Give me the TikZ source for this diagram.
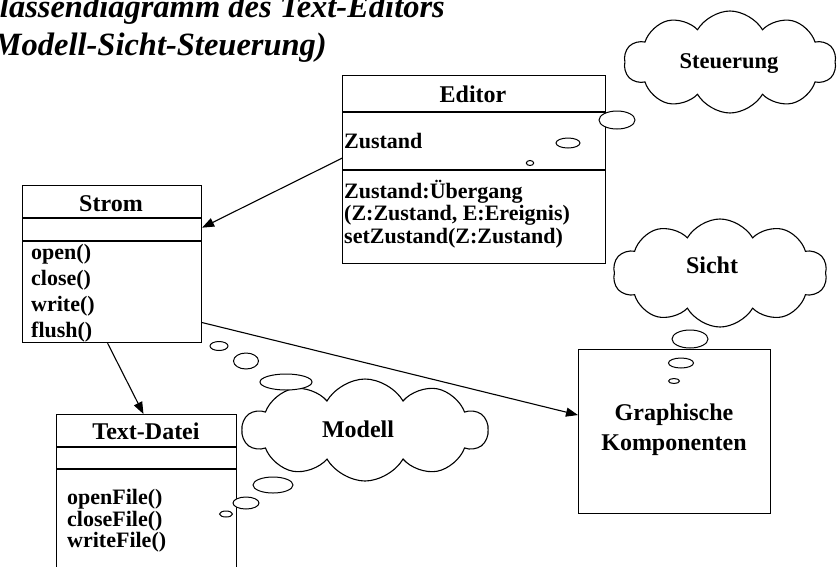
\documentclass[tikz,border=0pt]{standalone}
\usepackage{fontspec}
\setmainfont{Liberation Serif}
\usetikzlibrary{shapes.symbols,calc,arrows.meta}

\newcommand\ttlfont{\fontsize{32.5}{34}\selectfont\bfseries\itshape}
\newcommand\hdfont{\fontsize{24}{26}\selectfont\bfseries}
\newcommand\mbfont{\fontsize{22}{24}\selectfont\bfseries}
\newcommand\cldfont{\fontsize{24}{26}\selectfont\bfseries}

\begin{document}
\begin{tikzpicture}[x=1pt,y=-1pt,
  classbox/.style={draw, line width=1.1pt, rectangle, anchor=north west, inner sep=0pt},
  divider/.style={line width=1.1pt},
  hd/.style={anchor=base, inner sep=0pt, font=\hdfont},
  mb/.style={anchor=base west, inner sep=0pt, font=\mbfont},
  thought/.style={cloud, draw, line width=1.1pt, fill=white, cloud puffs=10,
    cloud puff arc=120, aspect=2, cloud ignores aspect, inner sep=0pt},
  cldtext/.style={anchor=base, inner sep=0pt, font=\cldfont},
  bubble/.style={draw, line width=1pt, fill=white},
  assoc/.style={line width=1.1pt, -{Triangle[length=12pt,width=9pt]}}]

\useasboundingbox (0,0) rectangle (837,566);

% title (runs off the left edge of the page)
\node[anchor=base east, inner sep=0pt, font=\ttlfont] (title1) at (445,17) {Klassendiagramm des Text-Editors};
\node[anchor=base east, inner sep=0pt, font=\ttlfont] (title2) at (327,55) {(Modell-Sicht-Steuerung)};

% class Editor
\node[classbox, minimum width=263pt, minimum height=188pt] (editor) at (342,75) {};
\draw[divider] ($(editor.north west)+(0,37)$) -- ($(editor.north east)+(0,37)$);
\draw[divider] ($(editor.north west)+(0,95)$) -- ($(editor.north east)+(0,95)$);
\node[hd] (editorname) at (473,102) {Editor};
\node[mb] (editorattr) at (344,148) {Zustand};
\node[mb] (editorop1) at (344,198) {Zustand:Übergang};
\node[mb] (editorop2) at (344,220) {(Z:Zustand, E:Ereignis)};
\node[mb] (editorop3) at (344,243) {setZustand(Z:Zustand)};

% class Strom
\node[classbox, minimum width=179pt, minimum height=157pt] (strom) at (22,185) {};
\draw[divider] ($(strom.north west)+(0,33)$) -- ($(strom.north east)+(0,33)$);
\draw[divider] ($(strom.north west)+(0,56)$) -- ($(strom.north east)+(0,56)$);
\node[hd] (stromname) at (111,211) {Strom};
\node[mb] (stromop1) at (31,259) {open()};
\node[mb] (stromop2) at (31,285) {close()};
\node[mb] (stromop3) at (31,311) {write()};
\node[mb] (stromop4) at (31,337) {flush()};

% class Text-Datei (continues below the page)
\node[classbox, minimum width=180pt, minimum height=190pt] (datei) at (56,414) {};
\draw[divider] ($(datei.north west)+(0,33)$) -- ($(datei.north east)+(0,33)$);
\draw[divider] ($(datei.north west)+(0,55)$) -- ($(datei.north east)+(0,55)$);
\node[hd] (dateiname) at (146,439) {Text-Datei};
\node[mb] (dateiop1) at (67,504) {openFile()};
\node[mb] (dateiop2) at (67,526) {closeFile()};
\node[mb] (dateiop3) at (67,547) {writeFile()};

% graphical components
\node[classbox, minimum width=192pt, minimum height=164pt] (graph) at (578,349) {};
\node[cldtext] (graph1) at (674,420) {Graphische};
\node[cldtext] (graph2) at (674,450) {Komponenten};

% thought clouds
\node[thought, minimum width=212pt, minimum height=102pt] (steuerung) at (730,62) {};
\node[cldtext, font=\fontsize{22.5}{24}\selectfont\bfseries] (steuerungtext) at (729,68) {Steuerung};
\node[thought, minimum width=214pt, minimum height=108pt] (sicht) at (720,273) {};
\node[cldtext] (sichttext) at (712,273) {Sicht};
\node[thought, minimum width=245pt, minimum height=102pt] (modell) at (365,430) {};
\node[cldtext] (modelltext) at (358,437) {Modell};

% bubbles leading to the clouds
\draw[bubble] (617,120) ellipse (18 and 9);
\draw[bubble] (568,143) ellipse (12 and 5);
\draw[bubble] (530,163) ellipse (3.7 and 2.5);

\draw[bubble] (690,339) ellipse (18 and 9);
\draw[bubble] (681,363) ellipse (12.5 and 5);
\draw[bubble] (674,381) ellipse (5.5 and 2.5);

\draw[bubble] (219,346) ellipse (9 and 4.5);
\draw[bubble] (246,361) ellipse (12.5 and 8);
\draw[bubble] (286,382) ellipse (26 and 8);

\draw[bubble] (273,485) ellipse (20 and 8);
\draw[bubble] (246,503) ellipse (13 and 6);
\draw[bubble] (226,514) ellipse (6.5 and 3);

% associations
\draw[assoc] ($(editor.north west)!0.44!(editor.south west)$) -- ($(strom.north east)!0.27!(strom.south east)$);
\draw[assoc] ($(strom.south west)!0.475!(strom.south east)$) -- ($(datei.north west)!0.483!(datei.north east)$);
\draw[assoc] ($(strom.north east)!0.87!(strom.south east)$) -- ($(graph.north west)!0.40!(graph.south west)$);

\end{tikzpicture}
\end{document}
